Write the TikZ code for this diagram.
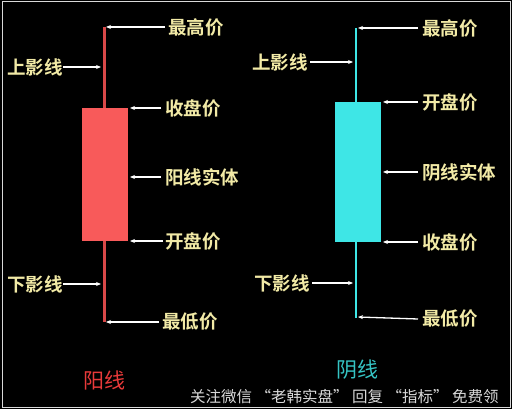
\documentclass[tikz,border=0pt]{standalone}
\usepackage{fontspec}
\newfontfamily\cjk{Noto Sans CJK SC}
\newfontfamily\cjkb{Noto Sans CJK SC Bold}
\usetikzlibrary{arrows.meta}
\definecolor{lbl}{HTML}{F2EAA6}
\definecolor{upbody}{HTML}{F85A5A}
\definecolor{upwick}{HTML}{D84848}
\definecolor{dnbody}{HTML}{3EE6E6}
\definecolor{uptxt}{HTML}{E83A3A}
\tikzset{
  lab/.style={text=lbl,font=\cjkb\fontsize{18.5}{18.5}\selectfont,inner sep=0pt},
  ptr/.style={draw=white,line width=1.3pt,-{Stealth[length=5pt,width=4pt]}},
  wick/.style={line width=3pt},
}
\begin{document}
\begin{tikzpicture}[x=1pt,y=-1pt]
\useasboundingbox (0,0) rectangle (512,409);
\fill[black] (0,0) rectangle (512,409);
\draw[white!85!black,line width=1pt] (2,2) rectangle (510,407);
% ---------- red candle ----------
\coordinate (rh) at (104,27);
\coordinate (rl) at (104,322);
\draw[upwick,wick] (rh) -- (rl);
\node[fill=upbody,minimum width=46pt,minimum height=133pt,inner sep=0pt] (rb) at (105,174.5) {};
\coordinate (rbt) at (129,108);
\coordinate (rbm) at (129,177);
\coordinate (rbb) at (129,241);
\coordinate (ru) at (101,67);
\coordinate (rd) at (101,284);
\node[lab,anchor=west] (r1) at (168,27) {最高价};
\node[lab,anchor=east] (r2) at (63,67) {上影线};
\node[lab,anchor=west] (r3) at (165,108) {收盘价};
\node[lab,anchor=west] (r4) at (165,177) {阳线实体};
\node[lab,anchor=west] (r5) at (165,241) {开盘价};
\node[lab,anchor=east] (r6) at (63,284) {下影线};
\node[lab,anchor=west] (r7) at (162,322) {最低价};
\draw[ptr] (r1.west) ++(-3,0) -- ([xshift=2pt]rh);
\draw[ptr] (r2.east) -- (ru);
\draw[ptr] (r3.west) ++(-4,0) -- ([xshift=1pt]rbt);
\draw[ptr] (r4.west) ++(-4,0) -- ([xshift=1pt]rbm);
\draw[ptr] (r5.west) ++(-2,0) -- ([xshift=1pt]rbb);
\draw[ptr] (r6.east) -- (rd);
\draw[ptr] (r7.west) ++(-3,0) -- ([xshift=2pt]rl);
\node[text=uptxt,font=\cjk\fontsize{21}{21}\selectfont,inner sep=0pt] (rt) at (104,380) {阳线};
% ---------- cyan candle ----------
\coordinate (ch) at (356,28);
\coordinate (cl) at (356,318);
\draw[dnbody,line width=2pt] (ch) -- (cl);
\node[fill=dnbody,minimum width=46pt,minimum height=140pt,inner sep=0pt] (cb) at (357.5,172) {};
\coordinate (cbt) at (382,102);
\coordinate (cbm) at (382,172);
\coordinate (cbb) at (382,242);
\coordinate (cu) at (353,62);
\coordinate (cd) at (353,283);
\node[lab,anchor=west] (c1) at (422,28) {最高价};
\node[lab,anchor=east] (c2) at (308,62) {上影线};
\node[lab,anchor=west] (c3) at (422,102) {开盘价};
\node[lab,anchor=west] (c4) at (422,172) {阴线实体};
\node[lab,anchor=west] (c5) at (422,242) {收盘价};
\node[lab,anchor=east] (c6) at (310,283) {下影线};
\node[lab,anchor=west] (c7) at (422,319) {最低价};
\draw[ptr] (c1.west) ++(-4,0) -- ([xshift=2pt]ch);
\draw[ptr] (c2.east) ++(2,0) -- (cu);
\draw[ptr] (c3.west) ++(-4,0) -- ([xshift=1pt]cbt);
\draw[ptr] (c4.west) ++(-4,0) -- ([xshift=1pt]cbm);
\draw[ptr] (c5.west) ++(-4,0) -- ([xshift=1pt]cbb);
\draw[ptr] (c6.east) ++(2,0) -- (cd);
\draw[ptr] (c7.west) ++(-4,0) -- ([xshift=2pt,yshift=1pt]cl);
\node[text=dnbody!85!black,font=\cjk\fontsize{21}{21}\selectfont,inner sep=0pt] (ct) at (357,370) {阴线};
% ---------- watermark ----------
\node[text=white!85!black,font=\cjk\fontsize{15.5}{15.5}\selectfont,inner sep=0pt,anchor=west] (wm) at (190,397) {关注微信 “老韩实盘” 回复 “指标” 免费领};
\end{tikzpicture}
\end{document}
